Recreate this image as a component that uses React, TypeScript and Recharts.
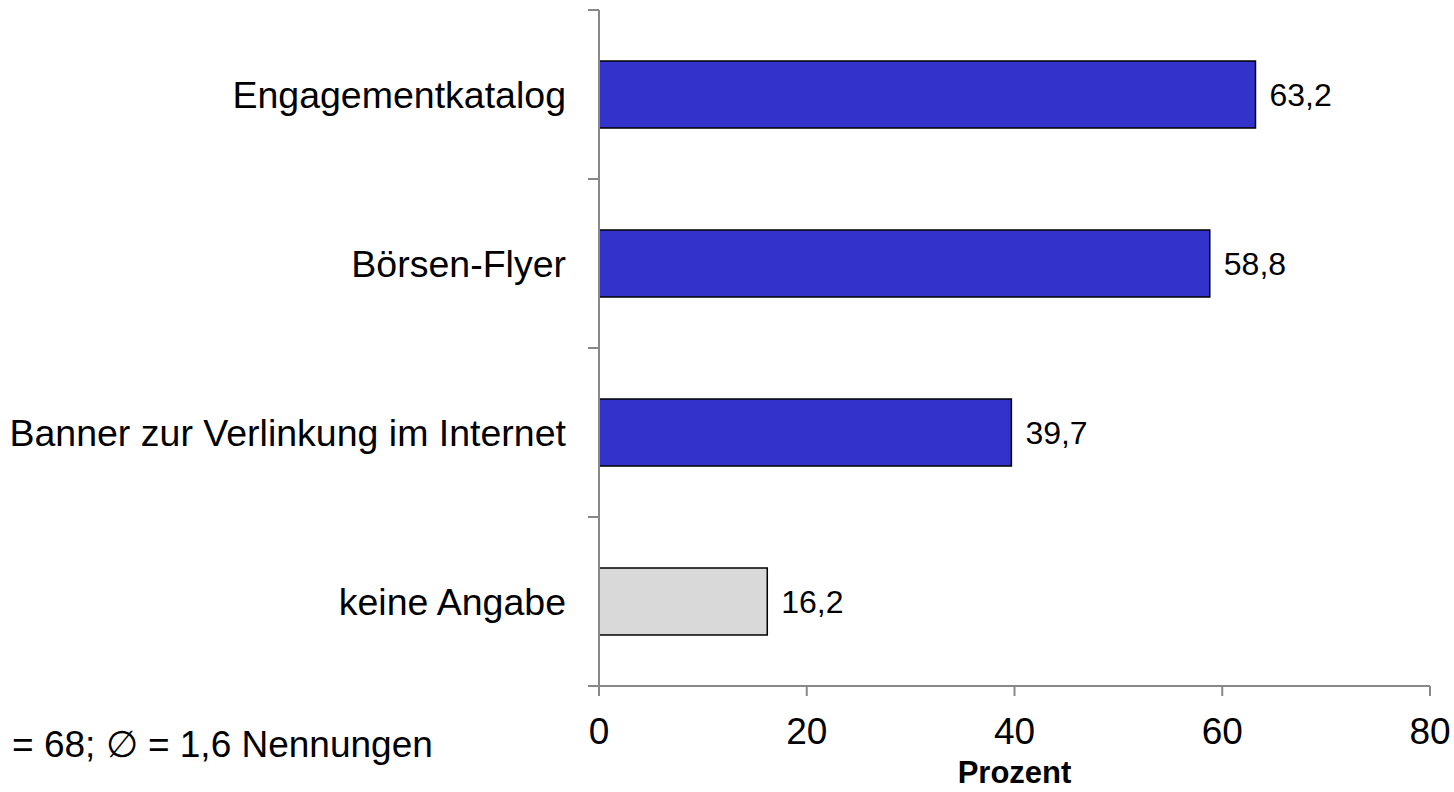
import React from 'react';
import { BarChart, Bar, XAxis, YAxis, Cell, LabelList } from 'recharts';

const categories = ['Engagementkatalog', 'Börsen-Flyer', 'Banner zur Verlinkung im Internet', 'keine Angabe'];
const percentValues = [63.2, 58.8, 39.7, 16.2];
const xTicks = [0, 20, 40, 60, 80];
const footnote = '= 68; \u2205 = 1,6 Nennungen';

const W = 1454;
const H = 792;
const TOP = 10;
const X_AXIS_H = 106;
const Y_AXIS_W = 599;
const BAND = (H - TOP - X_AXIS_H) / categories.length;
const FONT = '"Liberation Sans", Arial, sans-serif';
const AXIS_COLOR = '#888888';

const data = categories.map((name, i) => ({ name, value: percentValues[i] }));

const CategoryTick = (props: any) => {
  const { x, y, payload } = props;
  return (
    <g>
      <line x1={x - 11} x2={x} y1={y - BAND / 2} y2={y - BAND / 2} stroke={AXIS_COLOR} strokeWidth={2} />
      <line x1={x - 11} x2={x} y1={y + BAND / 2} y2={y + BAND / 2} stroke={AXIS_COLOR} strokeWidth={2} />
      <text x={x - 33} y={y} dy="0.35em" textAnchor="end" fontSize={37.5} fill="#000" fontFamily={FONT}>
        {payload.value}
      </text>
    </g>
  );
};

export default function App() {
  return (
    <div style={{ position: 'absolute', left: 0, top: 0, width: W, height: H, background: '#fff', fontFamily: FONT }}>
      <BarChart
        width={W}
        height={H}
        data={data}
        layout="vertical"
        margin={{ top: TOP, right: 24, bottom: 0, left: 0 }}
        barSize={67}
      >
        <XAxis
          type="number"
          domain={[0, 80]}
          ticks={xTicks}
          height={X_AXIS_H}
          stroke={AXIS_COLOR}
          strokeWidth={2}
          tickSize={10}
          tickMargin={22}
          tick={{ fill: '#000', fontSize: 37, fontFamily: FONT }}
          label={{ value: 'Prozent', position: 'insideBottom', offset: 9, fill: '#000', fontSize: 31, fontWeight: 'bold', fontFamily: FONT }}
        />
        <YAxis
          type="category"
          dataKey="name"
          width={Y_AXIS_W}
          stroke={AXIS_COLOR}
          strokeWidth={2}
          tickSize={0}
          tickMargin={0}
          tickLine={false}
          tick={<CategoryTick />}
          interval={0}
        />
        <Bar dataKey="value" stroke="#000" strokeWidth={1.5} isAnimationActive={false}>
          {data.map((d, i) => (
            <Cell key={d.name} fill={i === data.length - 1 ? '#D9D9D9' : '#3333CC'} />
          ))}
          <LabelList
            dataKey="value"
            position="right"
            offset={14}
            fill="#000"
            fontSize={32}
            fontFamily={FONT}
            formatter={(v: any) => String(v).replace('.', ',')}
          />
        </Bar>
      </BarChart>
      <div style={{ position: 'absolute', left: 12, top: 726, fontSize: 37, lineHeight: '37px', color: '#000', whiteSpace: 'nowrap' }}>
        {footnote}
      </div>
    </div>
  );
}
